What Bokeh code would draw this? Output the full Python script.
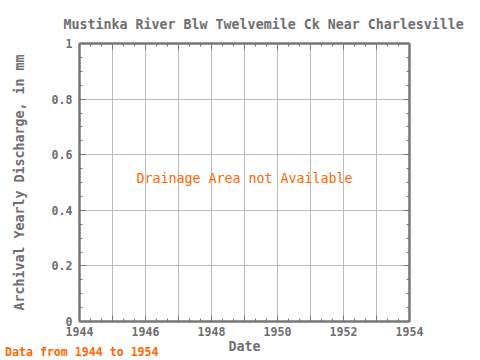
from bokeh.plotting import figure
from bokeh.models import (Range1d, LinearAxis, FixedTicker, Label, Title, Div)
from bokeh.layouts import column
from bokeh.embed import file_html
from bokeh.resources import INLINE

title_text = "Mustinka River Blw Twelvemile Ck Near Charlesville"
x_label = "Date"
y_label = "Archival Yearly Discharge, in mm"
note_text = "Drainage Area not Available"
footer_text = "Data from 1944 to 1954"
x_start, x_end = 1944, 1954
y_start, y_end = 0, 1
x_major = list(range(1944, 1955))
x_minor = [1944 + i / 3 for i in range(31)]
y_major = [0, 0.2, 0.4, 0.6, 0.8, 1.0]
y_minor = [i * 0.05 for i in range(21)]
x_labels = {y: (str(y) if y % 2 == 0 else "") for y in x_major}
y_labels = {0: "0", 0.2: "0.2", 0.4: "0.4", 0.6: "0.6", 0.8: "0.8", 1.0: "1"}

FONT = "DejaVu Sans Mono"
GRAY = "#6e6e6e"
AXC = "#777777"
ORANGE = "#ff6600"

p = figure(width=472, height=357, output_backend="svg", toolbar_location=None,
           x_range=Range1d(x_start, x_end), y_range=Range1d(y_start, y_end),
           min_border_left=79, min_border_right=63, min_border_top=43, min_border_bottom=36,
           x_axis_location=None, y_axis_location=None)
p.outline_line_color = AXC
p.outline_line_width = 2
p.background_fill_color = "white"
p.border_fill_color = "white"


def make_axis(loc, ticks, minor, labels, show_labels, label=None):
    ax = LinearAxis(ticker=FixedTicker(ticks=ticks, minor_ticks=minor))
    ax.axis_line_color = AXC
    ax.axis_line_width = 2
    ax.major_tick_line_color = AXC
    ax.minor_tick_line_color = AXC
    ax.major_tick_line_width = 1
    ax.minor_tick_line_width = 1
    ax.major_tick_in = 6
    ax.major_tick_out = 0
    ax.minor_tick_in = 3
    ax.minor_tick_out = 0
    ax.major_label_text_font = FONT
    ax.major_label_text_font_size = "11.6px"
    ax.major_label_text_color = GRAY
    ax.major_label_text_font_style = "bold"
    if show_labels:
        ax.major_label_overrides = labels
    else:
        ax.major_label_overrides = {k: "" for k in ticks}
        ax.major_label_standoff = 0
    if label:
        ax.axis_label = label
        ax.axis_label_text_font = FONT
        ax.axis_label_text_font_size = "13.3px"
        ax.axis_label_text_color = GRAY
        ax.axis_label_text_font_style = "bold"
    p.add_layout(ax, loc)
    return ax


bx = make_axis("below", x_major, x_minor, x_labels, True, x_label)
bx.major_label_standoff = 5
bx.axis_label_standoff = 0
ly = make_axis("left", y_major, y_minor, y_labels, True, y_label)
ly.major_label_standoff = 7
ly.axis_label_standoff = 22
make_axis("above", x_major, x_minor, x_labels, False)
make_axis("right", y_major, y_minor, y_labels, False)

t = Title(text=title_text, align="left", text_font=FONT, text_font_size="13.3px",
          text_color=GRAY, text_font_style="bold", offset=-16, standoff=24)
p.add_layout(t, "above")

p.xgrid.ticker = FixedTicker(ticks=x_major)
p.ygrid.ticker = FixedTicker(ticks=y_major)
p.xgrid.grid_line_color = "#bbbbbb"
p.ygrid.grid_line_color = "#bbbbbb"

note = Label(x=(x_start + x_end) / 2, y=0.515, text=note_text,
             text_font=FONT, text_font_size="13.3px", text_color=ORANGE,
             text_align="center", text_baseline="middle")
p.add_layout(note)

foot = Div(text=footer_text, width=200, height=14, margin=(-12, 0, 0, 5),
           styles={"font-family": FONT, "font-size": "11.6px", "font-weight": "bold",
                   "color": ORANGE, "line-height": "14px", "white-space": "nowrap"})

layout = column(p, foot, spacing=0)
open("out.html", "w").write(file_html(layout, INLINE))
